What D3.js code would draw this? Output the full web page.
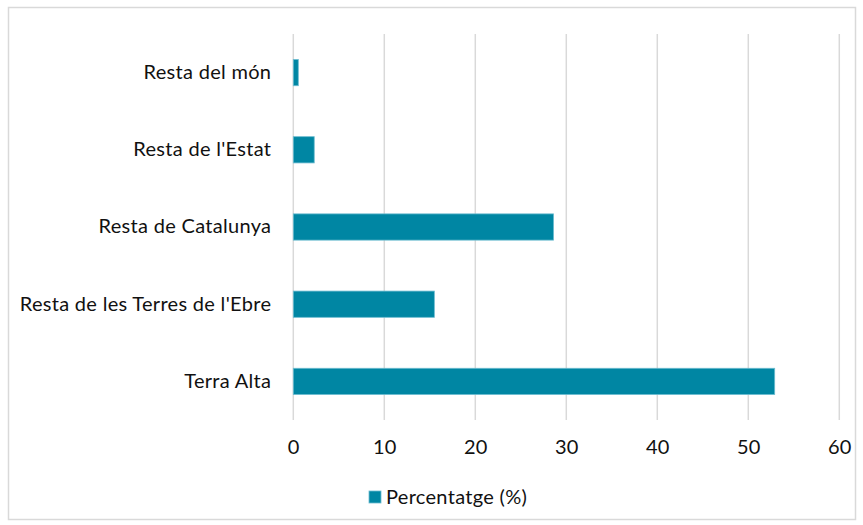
<!DOCTYPE html>
<html>
<head>
<meta charset="utf-8">
<script src="https://cdn.jsdelivr.net/npm/d3@7/dist/d3.min.js"></script>
<style>
  html, body { margin: 0; padding: 0; background: #fff; }
  svg { display: block; }
  text { font-family: Lato, "Open Sans", sans-serif; fill: #111; }
</style>
</head>
<body>
<svg id="chart" width="863" height="525"></svg>
<script>
const categories = ["Resta del món", "Resta de l'Estat", "Resta de Catalunya", "Resta de les Terres de l'Ebre", "Terra Alta"];
const values = [0.55, 2.3, 28.6, 15.5, 52.9];
const xTicks = [0, 10, 20, 30, 40, 50, 60];
const seriesName = "Percentatge (%)";

const FONT = 'Lato, "Open Sans", sans-serif';
const FS = 20;
const LS = "0.3px";
const svg = d3.select("#chart");
const W = 863, H = 525;
const margin = { left: 293.3, right: W - 839.3, top: 34, bottom: H - 420 };

svg.append("rect")
  .attr("x", 8.5).attr("y", 7.5).attr("width", 847).attr("height", 512)
  .attr("fill", "#fff").attr("stroke", "#d9d9d9").attr("stroke-width", 1.5);

const x = d3.scaleLinear().domain([0, 60]).range([margin.left, W - margin.right]);
const y = d3.scaleBand().domain(categories).range([margin.top, H - margin.bottom]).paddingInner(0.66).paddingOuter(0.33);

// gridlines
svg.append("g").selectAll("line").data(xTicks).join("line")
  .attr("x1", d => x(d)).attr("x2", d => x(d))
  .attr("y1", margin.top).attr("y2", H - margin.bottom)
  .attr("stroke", "#d9d9d9").attr("stroke-width", 1.5);

// bars
svg.append("g").selectAll("rect").data(categories).join("rect")
  .attr("x", x(0))
  .attr("y", d => y(d))
  .attr("width", (d, i) => x(values[i]) - x(0))
  .attr("height", y.bandwidth())
  .attr("fill", "#0086a3")
  .attr("stroke", "#6cbcd0").attr("stroke-width", 0.8);

// x axis labels
const xAxis = d3.axisBottom(x).tickValues(xTicks).tickSize(0).tickPadding(0);
const gx = svg.append("g").attr("transform", `translate(0,${H - margin.bottom})`).call(xAxis);
gx.select(".domain").remove();
gx.selectAll("text").attr("font-size", FS).attr("dy", null).attr("y", 34)
  .style("font-family", FONT).style("letter-spacing", LS).attr("fill", "#111");

// y axis labels
const yAxis = d3.axisLeft(y).tickSize(0).tickPadding(22);
const gy = svg.append("g").attr("transform", `translate(${x(0)},0)`).call(yAxis);
gy.select(".domain").remove();
gy.selectAll("text").attr("font-size", FS)
  .style("font-family", FONT).style("letter-spacing", LS).attr("fill", "#111");

// legend
const lg = svg.append("g");
lg.append("rect").attr("x", 369).attr("y", 491).attr("width", 12).attr("height", 12)
  .attr("fill", "#0086a3").attr("stroke", "#6cbcd0").attr("stroke-width", 0.8);
lg.append("text").attr("x", 386).attr("y", 497).attr("dy", "0.35em")
  .attr("font-size", FS).style("font-family", FONT).style("letter-spacing", LS).text(seriesName);
</script>
</body>
</html>
